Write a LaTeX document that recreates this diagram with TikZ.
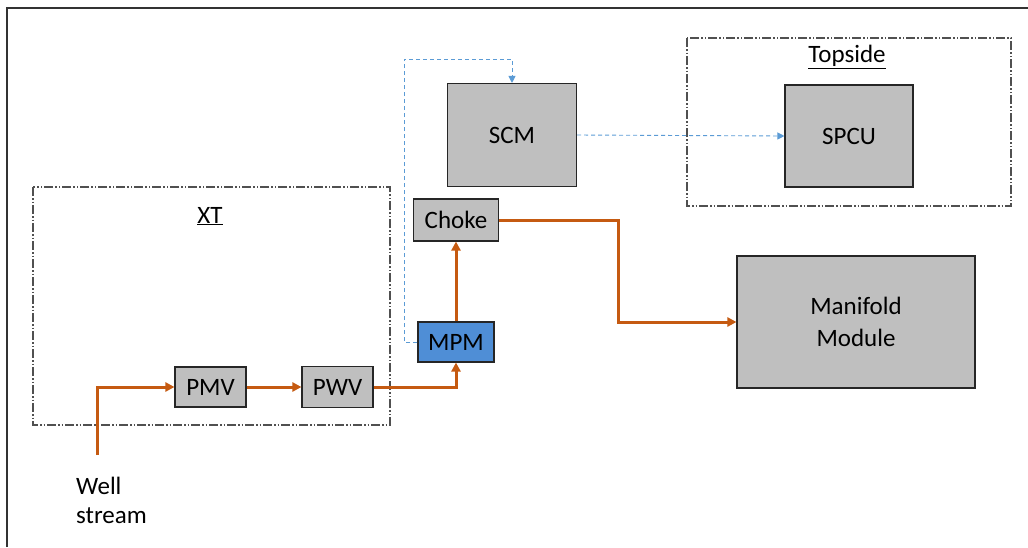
\documentclass[tikz,border=0pt]{standalone}
\usepackage{fontspec}
\setmainfont{Carlito}
\usetikzlibrary{arrows.meta}
\definecolor{flow}{RGB}{197,90,17}
\definecolor{sig}{RGB}{91,155,213}
\definecolor{boxgray}{RGB}{191,191,191}
\definecolor{mpmblue}{RGB}{79,142,214}
\definecolor{regline}{RGB}{80,80,80}
\tikzset{
  comp/.style={draw=black!85, line width=1.1pt, fill=boxgray, inner sep=0pt, font=\fontsize{25}{32}\selectfont, align=center},
  region/.style={draw=regline, line width=1.1pt, dash pattern=on 9pt off 2pt on 1.5pt off 2pt on 1.5pt off 2pt},
  flowline/.style={draw=flow, line width=3pt, -{Triangle[length=9pt,width=9pt]}},
  sigline/.style={draw=sig, line width=0.9pt, dash pattern=on 4pt off 3pt, -{Triangle[length=7pt,width=7pt]}},
  lbl/.style={font=\fontsize{25}{29}\selectfont, inner sep=0pt}
}
\begin{document}
\begin{tikzpicture}[x=1pt,y=-1pt]
\useasboundingbox (0,0) rectangle (1028,547);
% frame
\draw[line width=1.8pt, black!80] (7,547) -- (7,8) -- (1028,8);
% regions
\draw[region] (33,187) rectangle (390,425);
\node[lbl] (xtlbl) at (210,216) {\underline{XT}};
\draw[region] (687,38) rectangle (1011,206);
\node[lbl] (toplbl) at (847,57) {\underline{Topside}};
% components
\node[comp, minimum width=71pt, minimum height=40pt] (pmv) at (210.5,387) {PMV};
\node[comp, minimum width=71pt, minimum height=41pt] (pwv) at (337.5,387) {PWV};
\node[comp, fill=mpmblue, minimum width=76pt, minimum height=40pt] (mpm) at (456,342) {MPM};
\node[comp, minimum width=85pt, minimum height=42pt] (choke) at (456,220) {Choke};
\node[comp, minimum width=129pt, minimum height=103pt] (scm) at (512,135) {SCM};
\node[comp, minimum width=128pt, minimum height=102pt] (spcu) at (849,136) {SPCU};
\node[comp, minimum width=238pt, minimum height=132pt] (man) at (856,322) {Manifold\\Module};
% well stream
\node[lbl, align=left, anchor=north west] (well) at (76,477) {Well\\stream};
\coordinate (ws) at (97,455);
\coordinate (fb) at (512,59);
% flow
\draw[flowline] (ws) |- (pmv.west);
\draw[flowline] (pmv.east) -- (pwv.west);
\draw[flowline] (pwv.east) -| (mpm.south);
\draw[flowline] (mpm.north) -- (choke.south);
\draw[flowline] (choke.east) -- ++(119,0) |- (man.west);
% signals
\draw[sigline] (mpm.west) -- ++(-13,0) |- (fb) -- (scm.north);
\draw[sigline] (scm.east) -- (spcu.west);
\end{tikzpicture}
\end{document}
